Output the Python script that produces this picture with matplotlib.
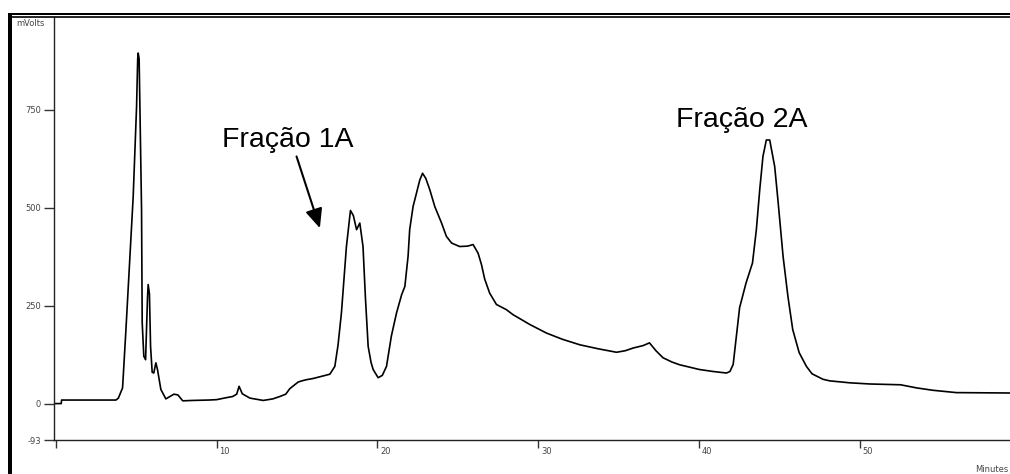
import matplotlib
matplotlib.use("Agg")
import matplotlib.pyplot as plt
from matplotlib.lines import Line2D
from matplotlib.patches import Rectangle
import matplotlib.transforms as mtransforms

# ---- data ----
time_min = [0, 0.35, 0.37, 3.75, 3.9, 4.0, 4.16, 4.37, 4.6, 4.82, 5.03, 5.1, 5.13, 5.19,
            5.3, 5.34, 5.38, 5.48, 5.59, 5.66, 5.71, 5.75, 5.83, 5.9, 6.0, 6.1, 6.23, 6.33,
            6.54, 6.85, 7.1, 7.35, 7.6, 7.9, 8.5, 9.5, 10.0, 10.6, 11.0, 11.25, 11.4, 11.6,
            12.07, 12.9, 13.5, 13.93, 14.3, 14.55, 14.76, 15.07, 15.3, 15.59, 16.0, 17.04,
            17.35, 17.55, 17.76, 18.07, 18.32, 18.5, 18.7, 18.9, 19.1, 19.25, 19.42, 19.6,
            19.73, 20.04, 20.3, 20.56, 20.86, 21.18, 21.5, 21.7, 21.9, 22.0, 22.21, 22.42,
            22.63, 22.8, 23.0, 23.25, 23.56, 23.98, 24.28, 24.6, 25.1, 25.6, 25.94, 26.25,
            26.46, 26.66, 26.97, 27.39, 28.0, 28.42, 29.46, 30.5, 31.5, 32.58, 33.7, 34.85,
            35.4, 35.9, 36.5, 36.9, 37.3, 37.74, 38.3, 38.78, 40.0, 40.84, 41.68, 41.9, 42.1,
            42.5, 42.9, 43.3, 43.54, 43.75, 43.95, 44.16, 44.37, 44.68, 44.88, 45.2, 45.5,
            45.8, 46.2, 46.65, 47.0, 47.68, 48.1, 49.35, 50.6, 52.5, 53.5, 54.5, 55.96, 59.3]
signal_mv = [0, 0, 9, 9, 14, 24, 40, 189, 360, 528, 758, 880, 895, 880,
             600, 495, 207, 121, 112, 200, 270, 304, 280, 146, 80, 78, 104, 87,
             36, 12, 18, 24, 22, 7, 8, 9, 10, 15, 18, 24, 44, 25,
             14, 8, 12, 18, 24, 38, 45, 55, 58, 61, 64, 75,
             95, 150, 232, 401, 493, 480, 444, 461, 401, 270, 146, 105,
             87, 66, 72, 95, 172, 231, 278, 299, 376, 444, 503, 537,
             571, 588, 575, 546, 503, 461, 427, 410, 401, 402, 406, 384,
             355, 318, 282, 253, 240, 227, 202, 180, 164, 150, 140, 131,
             135, 142, 148, 155, 135, 117, 106, 99, 87, 82, 78, 82, 100,
             245, 308, 359, 444, 546, 631, 673, 673, 605, 520, 376, 274,
             189, 130, 95, 76, 62, 58, 53, 50, 48, 40, 34, 28, 27]

y_ticks = [-93, 0, 250, 500, 750]
y_tick_labels = ["-93", "0", "250", "500", "750"]
x_ticks = [0, 10, 20, 30, 40, 50]
x_tick_labels = ["", "10", "20", "30", "40", "50"]
label_1a = "Fração 1A"
label_2a = "Fração 2A"

W, H = 1010, 474
fig = plt.figure(figsize=(W / 100, H / 100), dpi=100)

def fx(px):
    return px / W

def fy(py):
    return 1 - py / H

ax = fig.add_axes([fx(54), fy(440), 1 - fx(54), fy(17) - fy(440)])
ax.plot(time_min, signal_mv, color="black", lw=1.2, solid_joinstyle="round")
ax.set_xlim(-0.1, 59.3)
ax.set_ylim(-93, 987)

for s in ["top", "right"]:
    ax.spines[s].set_visible(False)
for s in ["left", "bottom"]:
    ax.spines[s].set_color("#222222")
    ax.spines[s].set_linewidth(1.0)

ax.set_yticks(y_ticks)
ax.set_yticklabels(y_tick_labels)
ax.set_xticks(x_ticks)
ax.set_xticklabels(x_tick_labels, ha="left")
ax.tick_params(axis="y", direction="out", length=7.2, width=1.0, color="#333333",
               labelsize=6, labelcolor="#444444", pad=2)
ax.tick_params(axis="x", direction="out", length=5.8, width=1.0, color="#333333",
               labelsize=6, labelcolor="#444444", pad=-0.5)
offset = mtransforms.ScaledTranslation(2.5 / 100, 0, fig.dpi_scale_trans)
for lab in ax.get_xticklabels():
    lab.set_transform(lab.get_transform() + offset)

# axis unit labels
fig.text(fx(16), fy(23), "mVolts", fontsize=6, color="#444444", va="center", ha="left")
fig.text(fx(975), fy(469), "Minutes", fontsize=6, color="#444444", va="center", ha="left")

# annotations
ax.text(10.31, 656, label_1a, fontsize=20.5, family="Liberation Sans", va="baseline", ha="left")
ax.text(38.57, 706, label_2a, fontsize=20.5, family="Liberation Sans", va="baseline", ha="left")
ax.annotate("", xy=(16.42, 448), xytext=(14.97, 631),
            arrowprops=dict(arrowstyle="-|>,head_length=0.45,head_width=0.2",
                            mutation_scale=26, lw=1.5, color="black",
                            shrinkA=0, shrinkB=0))

# outer frame
fig.add_artist(Rectangle((fx(8.3), 0), fx(12.3) - fx(8.3), fy(13) - 0,
                         transform=fig.transFigure, color="black", lw=0))
fig.add_artist(Rectangle((fx(8.3), fy(15.2)), 1 - fx(8.3), fy(12.7) - fy(15.2),
                         transform=fig.transFigure, color="black", lw=0))
fig.add_artist(Line2D([fx(12), 1], [fy(16.8), fy(16.8)], transform=fig.transFigure,
                      color="black", lw=1.2))

fig.savefig("out.png", dpi=100)
